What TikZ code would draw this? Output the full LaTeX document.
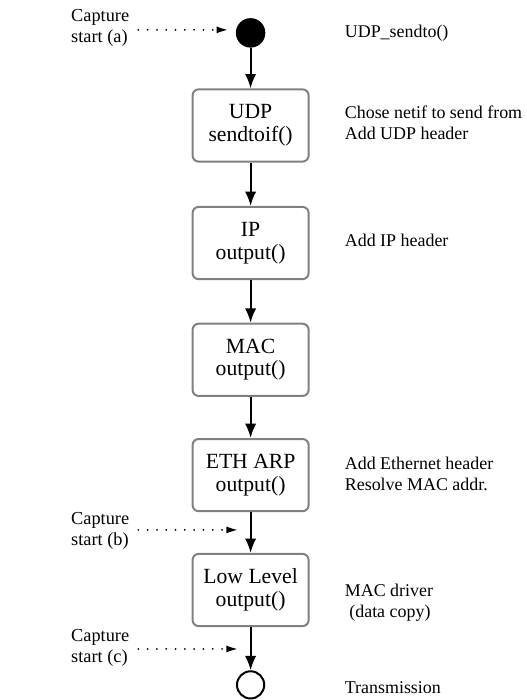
\documentclass[tikz,border=0pt]{standalone}
\usepackage{fontspec}
\setmainfont{Liberation Serif}
\usepackage{tikz}
\usetikzlibrary{arrows.meta}

\begin{document}
\begin{tikzpicture}[
	fn/.style={draw=black!50, line width=1.5pt, rounded corners=0.16cm, minimum width=3.07cm, minimum height=1.91cm, align=center, font=\fontsize{16.3}{17}\selectfont},
	note/.style={anchor=west, align=left, font=\fontsize{13.5}{15.5}\selectfont},
	capnote/.style={anchor=east, align=left, inner sep=1pt, font=\fontsize{13.8}{15.5}\selectfont},
	flow/.style={-{Latex[length=0.38cm,width=0.3cm]}, line width=1.5pt},
	probe/.style={line width=1.5pt, line cap=round, dash pattern=on 0pt off 7pt, -{Latex[length=0.28cm,width=0.18cm,line width=0pt]}}
]
	\useasboundingbox (0,0) rectangle (13.94,18.52);

	\node (S) [circle, fill=black, minimum size=0.78cm, inner sep=0] at (6.63,17.65) {};
	\node (UDP) [fn] at (6.63,15.20) {UDP\\sendtoif()};
	\node (IP) [fn] at (6.63,12.09) {IP\\output()};
	\node (MAC) [fn] at (6.63,9.00) {MAC\\output()};
	\node (ETH) [fn] at (6.63,5.95) {ETH ARP\\output()};
	\node (LL) [fn] at (6.63,2.91) {Low Level\\output()};
	\node (E) [circle, draw, line width=1.5pt, minimum size=0.72cm, inner sep=0] at (6.63,0.40) {};

	\node (N1) [note] at (9.00,17.65) {UDP\_sendto()};
	\node (N2) [note] at (9.00,15.27) {Chose netif to send from\\Add UDP header};
	\node (N3) [note] at (9.00,12.17) {Add IP header};
	\node (N4) [note] at (9.00,5.98) {Add Ethernet header\\Resolve MAC addr.};
	\node (N5) [note] at (9.00,2.57) {MAC driver\\\ (data copy)};
	\node (N6) [note] at (9.00,0.32) {Transmission};

	\node (CA) [capnote] at (3.46,17.78) {Capture\\start (a)};
	\node (CB) [capnote] at (3.46,4.47) {Capture\\start (b)};
	\node (CC) [capnote] at (3.46,1.38) {Capture\\start (c)};
	\coordinate (PA) at (6.01,17.73);
	\coordinate (PB) at (6.27,4.50);
	\coordinate (PC) at (6.27,1.35);

	\draw [flow] (S) to (UDP);
	\draw [flow] (UDP) to (IP);
	\draw [flow] (IP) to (MAC);
	\draw [flow] (MAC) to (ETH);
	\draw [flow] (ETH) to (LL);
	\draw [flow] (LL) to (E);

	\draw [probe, shorten <=0.2cm] (CA.east |- PA) to (PA);
	\draw [probe, shorten <=0.2cm] (CB.east |- PB) to (PB);
	\draw [probe, shorten <=0.2cm] (CC.east |- PC) to (PC);

\end{tikzpicture}
\end{document}
